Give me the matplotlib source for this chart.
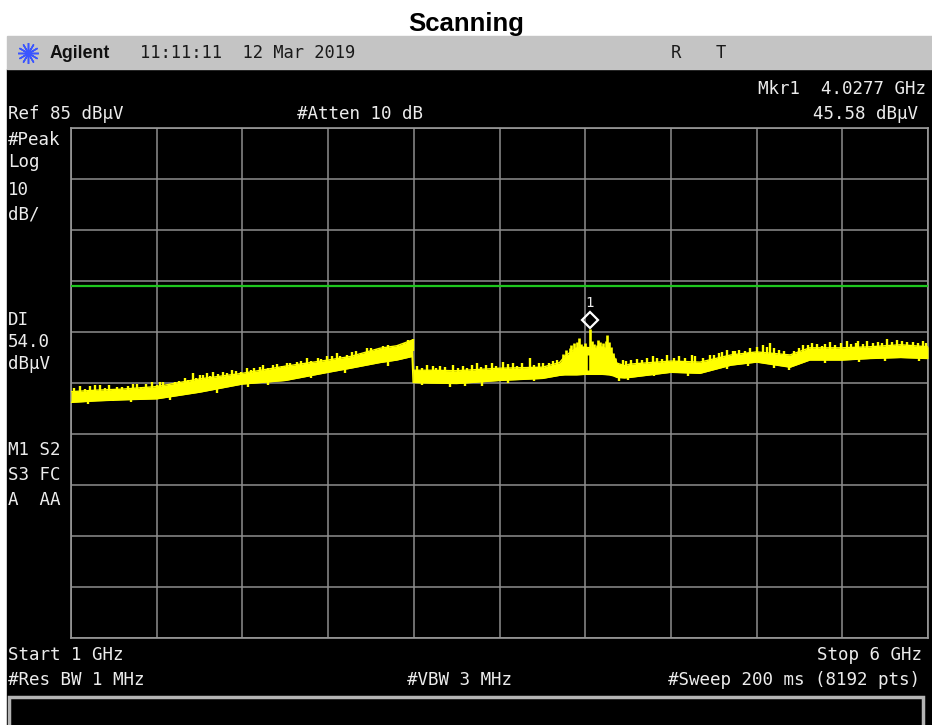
import matplotlib
matplotlib.use('Agg')
import matplotlib.pyplot as plt
import matplotlib.transforms as mtransforms
from matplotlib.patches import Rectangle
from matplotlib.lines import Line2D
import numpy as np

W, H = 932, 725

# analyzer settings as shown on screen
start_ghz = 1.0
stop_ghz = 6.0
ref_dbuv = 85
db_per_div = 10
display_line_dbuv = 54.0
mkr_ghz = 4.0277
mkr_dbuv = 45.58

# yellow trace: band envelope (dBuV)
trace_ghz = [1.000, 1.150, 1.300, 1.500, 1.750, 2.000, 2.250, 2.500, 2.630, 2.800,
             2.900, 2.990, 2.996, 3.100, 3.250, 3.500, 3.750, 3.850, 3.880, 3.920,
             3.950, 4.000, 4.060, 4.100, 4.140, 4.165, 4.185, 4.230, 4.260, 4.500,
             4.670, 4.850, 5.000, 5.195, 5.310, 5.500, 5.660, 5.840, 6.000]
trace_hi = [33.3, 33.6, 33.8, 34.3, 35.8, 36.9, 38.3, 39.5, 40.2, 41.8,
            42.3, 43.4, 37.5, 37.5, 37.4, 37.9, 38.1, 39.0, 40.2, 41.2,
            41.8, 42.0, 41.8, 42.0, 41.6, 40.4, 38.9, 38.4, 38.7, 39.3,
            39.1, 40.5, 41.1, 40.5, 41.9, 41.9, 42.1, 42.5, 42.1]
trace_lo = [31.2, 31.5, 31.7, 31.9, 33.2, 34.8, 35.5, 37.1, 37.9, 39.0,
            39.5, 40.2, 35.1, 35.0, 34.9, 35.5, 35.9, 36.5, 36.6, 36.6,
            36.6, 36.7, 36.7, 36.7, 36.6, 36.4, 36.1, 36.0, 36.1, 37.1,
            36.9, 38.5, 39.1, 38.1, 39.5, 39.5, 39.8, 40.0, 39.8]

# noise spikes sticking out above the band
spike_ghz = [1.020, 1.050, 1.080, 1.110, 1.140, 1.169, 1.200, 1.220, 1.247, 1.270,
             1.296, 1.330, 1.360, 1.383, 1.410, 1.440, 1.471, 1.500, 1.520, 1.538,
             1.570, 1.607, 1.630, 1.665, 1.680, 1.714, 1.730, 1.753, 1.770, 1.792,
             1.810, 1.831, 1.860, 1.889, 1.910, 1.938, 1.960, 1.990, 2.025, 2.050,
             2.070, 2.100, 2.122, 2.150, 2.180, 2.200, 2.230, 2.258, 2.280, 2.317,
             2.340, 2.375, 2.400, 2.443, 2.460, 2.492, 2.520, 2.550, 2.570, 2.608,
             2.638, 2.660, 2.690, 2.725, 2.750, 2.780, 2.822, 2.850, 2.880, 2.909,
             2.940, 2.968, 2.980, 2.993,
             3.020, 3.050, 3.075, 3.110, 3.130, 3.153, 3.180, 3.230, 3.260, 3.289,
             3.310, 3.340, 3.367, 3.390, 3.420, 3.454, 3.480, 3.522, 3.550, 3.581,
             3.600, 3.630, 3.678, 3.700, 3.730, 3.756, 3.790, 3.810, 3.834,
             4.220, 4.240, 4.270, 4.300, 4.330, 4.360, 4.397, 4.420, 4.450, 4.475,
             4.520, 4.550, 4.580, 4.621, 4.640, 4.690, 4.728, 4.750, 4.780, 4.800,
             4.825, 4.860, 4.874, 4.900, 4.930, 4.960, 5.000, 5.039, 5.060, 5.078,
             5.100, 5.130, 5.160, 5.220, 5.250, 5.273, 5.300, 5.322, 5.350, 5.380,
             5.400, 5.429, 5.460, 5.490, 5.526, 5.550, 5.580, 5.593, 5.620, 5.642,
             5.680, 5.710, 5.730, 5.759, 5.790, 5.817, 5.850, 5.880, 5.914, 5.940,
             5.973, 5.990]
spike_top = [34.0, 34.4, 33.9, 34.5, 34.6, 34.6, 34.1, 34.6, 33.9, 34.3,
             34.2, 34.4, 34.8, 34.9, 34.3, 34.9, 35.2, 34.6, 35.1, 35.2,
             34.9, 35.2, 35.3, 35.9, 35.6, 36.9, 36.0, 36.5, 36.6, 36.9,
             36.4, 37.2, 36.8, 37.2, 37.0, 37.5, 37.4, 37.1, 37.9, 37.6,
             37.9, 38.2, 38.5, 38.0, 38.5, 38.7, 38.4, 38.9, 39.0, 39.2,
             39.3, 39.9, 39.4, 39.9, 39.7, 40.2, 40.3, 40.8, 40.3, 40.5,
             41.0, 41.2, 40.9, 41.8, 41.9, 41.6, 42.3, 42.4, 42.1, 42.5,
             42.9, 43.5, 43.2, 43.7,
             38.3, 38.0, 38.6, 38.4, 37.9, 38.4, 38.1, 38.5, 37.9, 38.4,
             38.0, 38.6, 38.9, 38.2, 38.5, 38.9, 38.3, 39.2, 38.7, 38.9,
             38.4, 38.9, 39.9, 38.6, 38.9, 39.0, 39.0, 39.4, 39.6,
             39.6, 39.3, 39.5, 39.8, 39.6, 39.9, 40.2, 40.0, 39.7, 40.5,
             40.0, 40.3, 39.9, 40.5, 40.2, 40.0, 40.5, 40.4, 40.9, 41.0,
             41.5, 41.3, 41.2, 41.5, 41.2, 41.8, 42.0, 42.5, 42.0, 42.8,
             41.8, 41.5, 41.3, 41.3, 41.8, 42.5, 42.4, 42.8, 42.6, 42.3,
             42.7, 43.0, 42.5, 42.8, 43.2, 42.6, 42.9, 43.3, 42.7, 43.2,
             42.9, 43.1, 42.8, 43.6, 43.0, 43.4, 43.2, 43.0, 43.1, 42.9,
             43.3, 42.8]

# spikes inside the signal hump around the marker (rise from its floor)
hump_floor_dbuv = 37.0
hump_ghz = [3.870, 3.890, 3.910, 3.920, 3.935, 3.945, 3.955, 3.965, 3.975, 3.985,
            4.000, 4.028, 4.040, 4.050, 4.070, 4.075, 4.087, 4.095, 4.105, 4.120,
            4.127, 4.135, 4.140, 4.150, 4.165, 4.175]
hump_top = [40.6, 41.4, 41.8, 42.4, 42.8, 42.0, 43.0, 43.8, 42.6, 42.2,
            42.9, 45.6, 43.2, 42.6, 42.4, 43.4, 43.0, 42.3, 42.8, 43.3,
            44.5, 42.6, 43.0, 42.0, 40.8, 40.0]
# dark gap in the hump just left of the marker peak
gap_ghz = 4.016
gap_lo, gap_hi = 37.6, 40.4

# short drops below the band
dip_ghz = [1.100, 1.350, 1.580, 1.850, 2.030, 2.150, 2.400, 2.600, 2.850, 3.050,
           3.211, 3.300, 3.400, 3.550, 3.700, 4.200, 4.250, 4.400, 4.600, 4.830,
           4.950, 5.100, 5.190, 5.400, 5.600, 5.750, 5.950]
dip_bottom = [30.9, 31.2, 31.6, 33.0, 34.2, 34.6, 36.0, 36.9, 38.4, 34.6,
              34.2, 34.5, 34.5, 35.0, 35.3, 35.4, 35.5, 36.4, 36.4, 37.8,
              38.4, 37.9, 37.5, 38.9, 39.2, 39.4, 39.3]


def fx(x):
    return x / W


def fy(y):
    return 1 - y / H


fig = plt.figure(figsize=(W / 100, H / 100), dpi=100)
fig.patch.set_facecolor('white')

# screen background, grey header bar and empty message box
fig.add_artist(Rectangle((fx(7), fy(730)), (W - 7) / W, (730 - 69) / H,
                         transform=fig.transFigure, color='black', zorder=0))
fig.add_artist(Rectangle((fx(7), fy(69)), (W - 7) / W, 33 / H,
                         transform=fig.transFigure, color='#c4c4c4', zorder=0))
fig.add_artist(Rectangle((fx(9), fy(735)), (923 - 9) / W, (735 - 697) / H,
                         transform=fig.transFigure, facecolor='black',
                         edgecolor='#b4b4b4', lw=2.5, zorder=1))

fig.text(0.5, fy(31), 'Scanning', ha='center', va='baseline', fontsize=18.5,
         fontweight='bold', family='Liberation Sans', color='black')

# Agilent spark logo
fig.add_artist(Line2D([fx(28)], [fy(53)], marker=(12, 2, 0), markersize=15,
                      color='#3a55ff', mew=1.1, transform=fig.transFigure))
fig.text(fx(50), fy(53), 'Agilent', ha='left', va='center', fontsize=12.8,
         fontweight='bold', family='Liberation Sans', color='#101010')

mono = 'DejaVu Sans Mono'
hdr = dict(family=mono, fontsize=12.3, color='#1a1a1a', va='center')
fig.text(fx(140), fy(53), '11:11:11  12 Mar 2019', ha='left', **hdr)
fig.text(fx(671), fy(53), 'R', ha='left', **hdr)
fig.text(fx(716), fy(53), 'T', ha='left', **hdr)

scr = dict(family=mono, fontsize=12.6, color='#ececec', va='center')
fig.text(fx(926), fy(89), 'Mkr1  4.0277 GHz', ha='right', **scr)
fig.text(fx(918), fy(114), '45.58 dB\u00b5V', ha='right', **scr)
fig.text(fx(8), fy(114), 'Ref 85 dB\u00b5V', ha='left', **scr)
fig.text(fx(297), fy(114), '#Atten 10 dB', ha='left', **scr)
for label, y in [('#Peak', 140), ('Log', 162), ('10', 190), ('dB/', 215),
                 ('DI', 320), ('54.0', 342), ('dB\u00b5V', 364),
                 ('M1 S2', 450), ('S3 FC', 475), ('A  AA', 500),
                 ('Start 1 GHz', 655), ('#Res BW 1 MHz', 680)]:
    fig.text(fx(8), fy(y), label, ha='left', **scr)
fig.text(fx(922), fy(655), 'Stop 6 GHz', ha='right', **scr)
fig.text(fx(407), fy(680), '#VBW 3 MHz', ha='left', **scr)
fig.text(fx(920), fy(680), '#Sweep 200 ms (8192 pts)', ha='right', **scr)

# graticule
ax = fig.add_axes([fx(71), fy(638), (928 - 71) / W, (638 - 128) / H])
ax.set_facecolor('black')
ax.set_xlim(start_ghz, stop_ghz)
ax.set_ylim(ref_dbuv - 10 * db_per_div, ref_dbuv)
ax.set_xticks(np.linspace(start_ghz, stop_ghz, 11))
ax.set_yticks(np.arange(ref_dbuv - 10 * db_per_div, ref_dbuv + 1, db_per_div))
ax.tick_params(length=0, labelbottom=False, labelleft=False)
ax.grid(True, color='#8e8e8e', lw=1.1)
for s in ax.spines.values():
    s.set_color('#9a9a9a')
    s.set_linewidth(1.2)

ax.axhline(display_line_dbuv, color='#1ec81e', lw=1.6, zorder=3)

yellow = '#ffff00'
ax.fill_between(trace_ghz, trace_lo, trace_hi, color=yellow, lw=0, zorder=4)
ax.plot(trace_ghz, trace_hi, color=yellow, lw=1.0, zorder=4)
ax.plot(trace_ghz, trace_lo, color=yellow, lw=1.0, zorder=4)
st = np.array(spike_top)
ax.vlines(spike_ghz, st - 2.5, st, colors=yellow, lw=1.7, zorder=4)
ax.vlines(hump_ghz, hump_floor_dbuv, hump_top, colors=yellow, lw=1.9, zorder=4)
ax.vlines([gap_ghz], gap_lo, gap_hi, colors='black', lw=1.0, zorder=4)
db = np.array(dip_bottom)
ax.vlines(dip_ghz, db, db + 2.5, colors=yellow, lw=1.7, zorder=4)

# marker 1
up = mtransforms.offset_copy(ax.transData, fig=fig, x=0, y=6.5, units='points')
ax.plot([mkr_ghz], [mkr_dbuv], marker='D', ms=8, mfc='none', mec='white',
        mew=1.6, transform=up, zorder=5, clip_on=False)
txt = mtransforms.offset_copy(ax.transData, fig=fig, x=0, y=19, units='points')
ax.text(mkr_ghz, mkr_dbuv, '1', transform=txt, ha='center', va='center',
        family=mono, fontsize=10, color='#ececec', zorder=5)

fig.savefig('out.png', dpi=100)
